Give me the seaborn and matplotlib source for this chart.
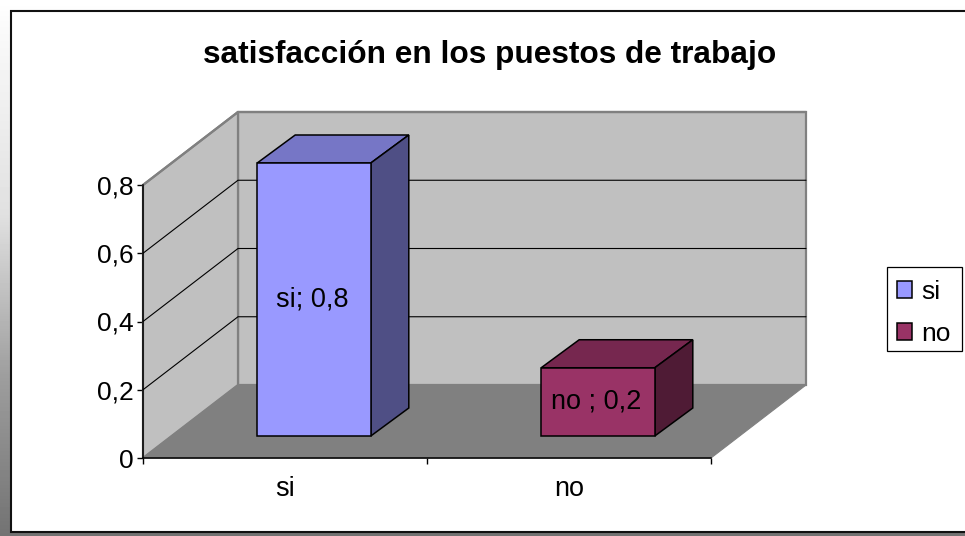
import numpy as np
import pandas as pd
import matplotlib
matplotlib.use("Agg")
import matplotlib.pyplot as plt
from matplotlib.patches import Polygon, Patch, Rectangle
import seaborn as sns

title = "satisfacción en los puestos de trabajo"
categories = ["si", "no"]
values = [0.8, 0.2]
data_labels = ["si; 0,8", "no ; 0,2"]
y_ticks = [0, 0.2, 0.4, 0.6, 0.8]
y_tick_labels = ["0", "0,2", "0,4", "0,6", "0,8"]
face_colors = ["#9999FF", "#993366"]
top_colors = ["#7676C6", "#76274F"]
side_colors = ["#4F4F85", "#4F1B35"]

sns.set_theme(style="white")
plt.rcParams["font.family"] = ["Liberation Sans", "DejaVu Sans"]

W, H = 965, 536
fig = plt.figure(figsize=(W / 100, H / 100), dpi=100, facecolor="white")

# outer gradient backdrop, chart-area frame and legend frame
bg = fig.add_axes([0, 0, 1, 1], zorder=0)
bg.set_axis_off()
grad = np.interp(np.linspace(0, 1, 536), [0, 0.05, 0.4, 0.7, 1], [1, 0.98, 0.88, 0.62, 0.45])
bg.imshow(grad[:, None], cmap="gray", vmin=0, vmax=1, aspect="auto", extent=[0, W, H, 0])
bg.set_xlim(0, W)
bg.set_ylim(H, 0)
bg.add_patch(Rectangle((10.5, 10.5), W + 20, 521, facecolor="white", edgecolor="#111111", lw=1.5))
bg.add_patch(Rectangle((887, 267), 75, 84, facecolor="white", edgecolor="black", lw=0.9))

L, R, T, B = 143, 711, 185, 458
ax = fig.add_axes([L / W, 1 - B / H, (R - L) / W, (B - T) / H], zorder=2)
ax.patch.set_visible(False)

df = pd.DataFrame({"cat": categories, "val": values})
sns.barplot(data=df, x="cat", y="val", hue="cat", palette=face_colors, legend=False,
            width=0.4, saturation=1, edgecolor="black", linewidth=1.1, ax=ax, zorder=5)
ax.set_xlim(-0.5, 1.5)
ax.set_ylim(0, 0.8)

# depth of the box and of the bars, in data units
px_x = 2.0 / (R - L)
px_y = 0.8 / (B - T)
DX, DY = 95 * px_x, 73 * px_y
BX, BY = 29 * px_x, 22 * px_y
SX, SY = 38 * px_x, 28 * px_y
x0, x1 = -0.5, 1.5
ymax = 0.8
wall_edge = "#808080"

ax.add_patch(Polygon([(x0 + DX, DY), (x1 + DX, DY), (x1 + DX, ymax + DY), (x0 + DX, ymax + DY)],
                     fc="#C0C0C0", ec=wall_edge, lw=1.6, clip_on=False, zorder=1))
ax.add_patch(Polygon([(x0, 0), (x0 + DX, DY), (x0 + DX, ymax + DY), (x0, ymax)],
                     fc="#C0C0C0", ec=wall_edge, lw=1.6, clip_on=False, zorder=1))
ax.add_patch(Polygon([(x0, 0), (x1, 0), (x1 + DX, DY), (x0 + DX, DY)],
                     fc="#808080", ec=wall_edge, lw=0.8, clip_on=False, zorder=1.5))
for yv in y_ticks[1:-1]:
    ax.plot([x0, x0 + DX, x1 + DX], [yv, yv + DY, yv + DY], color="black", lw=0.8,
            clip_on=False, zorder=2, solid_joinstyle="miter")
ax.plot([x0 + DX, x1 + DX], [ymax + DY] * 2, color=wall_edge, lw=1.6, clip_on=False, zorder=2)
ax.plot([x0, x0 + DX], [ymax, ymax + DY], color=wall_edge, lw=1.6, clip_on=False, zorder=2)

for i, bar in enumerate(ax.patches[:len(values)]):
    bar.set_x(bar.get_x() + BX)
    bar.set_y(BY)
    bar.set_clip_on(False)
    xl, xr = bar.get_x(), bar.get_x() + bar.get_width()
    yb, yt = bar.get_y(), bar.get_y() + bar.get_height()
    ax.add_patch(Polygon([(xl, yt), (xr, yt), (xr + SX, yt + SY), (xl + SX, yt + SY)],
                         fc=top_colors[i], ec="black", lw=1.1, clip_on=False, zorder=4))
    ax.add_patch(Polygon([(xr, yb), (xr + SX, yb + SY), (xr + SX, yt + SY), (xr, yt)],
                         fc=side_colors[i], ec="black", lw=1.1, clip_on=False, zorder=4))
    ax.text((xl + xr) / 2 - 2 * px_x, (yb + yt) / 2, data_labels[i], ha="center", va="center",
            fontsize=19.5, color="black", zorder=6)

ax.set_xlabel("")
ax.set_ylabel("")
for s in ["top", "right"]:
    ax.spines[s].set_visible(False)
for s in ["left", "bottom"]:
    ax.spines[s].set_color("black")
    ax.spines[s].set_linewidth(1.1)
    ax.spines[s].set_zorder(3)
ax.set_yticks(y_ticks, y_tick_labels, fontsize=19, color="black")
ax.set_xticks([0, 1], categories, fontsize=19.5, color="black")
ax.tick_params(axis="y", length=4, width=1, color="black", pad=3, left=True)
ax.tick_params(axis="x", which="major", length=0, pad=13)
ax.set_xticks([-0.5, 0.5, 1.5], minor=True)
ax.tick_params(axis="x", which="minor", length=4.5, width=1, color="black", bottom=True)

fig.text(490 / W, 1 - 55 / H, title, fontsize=22.8, fontweight="bold", color="black",
         ha="center", va="center", zorder=5)

handles = [Patch(facecolor=c, edgecolor="black", linewidth=1.1) for c in face_colors]
leg = fig.legend(handles, categories, loc="upper left",
                 bbox_to_anchor=(887 / W, 1 - 270.5 / H), fontsize=19, frameon=False,
                 borderpad=0.36, labelspacing=0.68, handlelength=0.58, handleheight=0.58,
                 handletextpad=0.35, borderaxespad=0, labelcolor="black")
leg.set_zorder(6)

fig.savefig("out.png", dpi=100)
